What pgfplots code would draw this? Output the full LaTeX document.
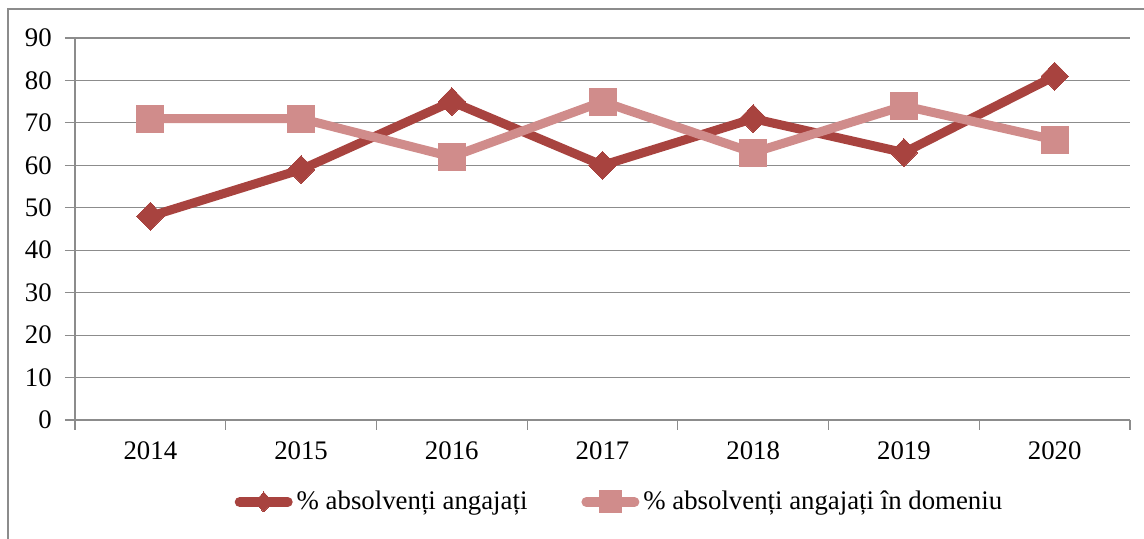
\documentclass[border=0pt]{standalone}
\usepackage{pgfplots}
\pgfplotsset{compat=1.18}
\usepackage{fontspec}
\setmainfont{Liberation Serif}
\definecolor{dred}{HTML}{A8433F}
\definecolor{lred}{HTML}{D08C8B}
\definecolor{gridc}{HTML}{8C8C8C}
\begin{document}
\fontsize{13.4}{16}\selectfont
\begin{tikzpicture}
\useasboundingbox (-37.5pt,-59.5pt) rectangle (534.5pt,210pt);
\draw[gridc, line width=0.6pt] (-33.5pt,-70pt) -- (-33.5pt,205.5pt) -- (540pt,205.5pt);
\begin{axis}[
  at={(0,0)}, anchor=south west,
  scale only axis, width=527.5pt, height=191pt,
  xmin=-0.5, xmax=6.5, ymin=0, ymax=90,
  xtick={0,...,6},
  xticklabels={2014,2015,2016,2017,2018,2019,2020},
  minor xtick={-0.5,0.5,...,6.5},
  ytick={0,10,...,90},
  axis x line*=bottom, axis y line*=left,
  axis line style={gridc, line width=0.6pt, -},
  x axis line style={-},
  tick align=outside,
  major tick length=5pt, minor tick length=5pt,
  xtick style={draw=none},
  minor x tick style={draw=gridc, line width=0.6pt},
  ytick style={gridc, line width=0.6pt},
  ymajorgrids, grid style={gridc, line width=0.6pt},
  /pgf/number format/assume math mode=true,
  yticklabel style={font=\fontsize{13.4}{16}\selectfont, xshift=-2pt},
  xticklabel style={font=\fontsize{13.4}{16}\selectfont, yshift=-1pt},
]
\addplot[dred, line width=4.5pt, mark=diamond*, mark size=7pt, mark options={solid, xscale=1.3, fill=dred, draw=dred, line width=0pt}]
  coordinates {(0,48) (1,59) (2,75) (3,60) (4,71) (5,63) (6,81)};
\addplot[lred, line width=4.5pt, mark=square*, mark size=6.75pt, mark options={solid, fill=lred, draw=lred, line width=0pt}]
  coordinates {(0,71) (1,71) (2,62) (3,75) (4,63) (5,74) (6,66)};
\end{axis}
\begin{axis}[
  at={(0,0)}, anchor=south west,
  scale only axis, width=527.5pt, height=191pt,
  xmin=-0.5, xmax=6.5, ymin=0, ymax=90, hide axis,
  legend columns=2,
  legend style={draw=none, fill=none, at={(axis description cs:0.517,0)}, anchor=center, yshift=-41pt,
    font=\fontsize{13.4}{16}\selectfont, /tikz/every even column/.append style={column sep=25pt},
    inner sep=0pt},
  legend cell align=left,
  legend image code/.code={
    \draw[#1, mark=none, line cap=round, line width=5pt] (2.5pt,0pt) -- (26.5pt,0pt);
    \draw[#1, draw=none] plot coordinates {(14.5pt,0pt)};
  },
]
\addlegendimage{dred, mark=diamond*, mark size=5pt, mark options={solid, xscale=1.2, fill=dred, draw=dred, line width=0pt}}
\addlegendentry{\% absolvenți angajați}
\addlegendimage{lred, mark=square*, mark size=5.5pt, mark options={solid, fill=lred, draw=lred, line width=0pt}}
\addlegendentry{\% absolvenți angajați în domeniu}
\end{axis}
\end{tikzpicture}
\end{document}
